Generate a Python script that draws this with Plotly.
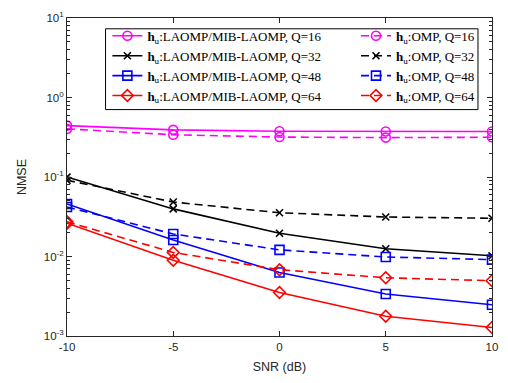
import plotly.graph_objects as go

snr = [-10, -5, 0, 5, 10]

laomp_q16 = [0.443, 0.392, 0.377, 0.374, 0.374]
omp_q16 = [0.403, 0.340, 0.318, 0.313, 0.316]
laomp_q32 = [0.100, 0.0397, 0.0196, 0.0125, 0.0102]
omp_q32 = [0.091, 0.0484, 0.0355, 0.0314, 0.0303]
laomp_q48 = [0.0458, 0.0161, 0.00628, 0.00337, 0.00247]
omp_q48 = [0.0420, 0.0192, 0.01213, 0.00986, 0.00914]
laomp_q64 = [0.0262, 0.00897, 0.00353, 0.00177, 0.00128]
omp_q64 = [0.0273, 0.01125, 0.00682, 0.00540, 0.00496]

x_ticks = [-10, -5, 0, 5, 10]
y_ticks = [1e-3, 1e-2, 1e-1, 1e0, 1e1]
y_tick_labels = ["10<sup>-3</sup>", "10<sup>-2</sup>", "10<sup>-1</sup>", "10<sup>0</sup>", "10<sup>1</sup>"]

series = [
    ("LAOMP/MIB-LAOMP", 16, laomp_q16, "#FF00FF", "circle-open", "solid", "legend"),
    ("LAOMP/MIB-LAOMP", 32, laomp_q32, "#000000", "x-thin-open", "solid", "legend"),
    ("LAOMP/MIB-LAOMP", 48, laomp_q48, "#0000FF", "square-open", "solid", "legend"),
    ("LAOMP/MIB-LAOMP", 64, laomp_q64, "#FF0000", "diamond-open", "solid", "legend"),
    ("OMP", 16, omp_q16, "#FF00FF", "circle-open", "8px,5px", "legend2"),
    ("OMP", 32, omp_q32, "#000000", "x-thin-open", "8px,5px", "legend2"),
    ("OMP", 48, omp_q48, "#0000FF", "square-open", "8px,5px", "legend2"),
    ("OMP", 64, omp_q64, "#FF0000", "diamond-open", "8px,5px", "legend2"),
]

fig = go.Figure()
for method, q, vals, color, sym, dash, leg in series:
    size = 9 if sym != "x-thin-open" else 7
    fig.add_trace(go.Scatter(
        x=snr, y=vals, mode="lines+markers",
        name=f"<b>h</b><sub>u</sub>:{method}, Q={q}",
        legend=leg,
        line=dict(color=color, width=1.6, dash=dash),
        marker=dict(symbol=sym, size=size, color=color,
                    line=dict(color=color, width=1.6)),
    ))

axis_color = "#262626"
legend_font = dict(family="Liberation Serif, Times New Roman, serif", size=13, color="#000000")
legend_top = 0.991

fig.add_shape(type="rect", xref="paper", yref="paper",
              x0=0.0907, x1=0.967, y0=0.712, y1=0.966,
              line=dict(color="#000000", width=1), fillcolor="white", layer="above")

fig.update_layout(
    width=508, height=383,
    margin=dict(l=67, r=11, t=10, b=47),
    paper_bgcolor="white", plot_bgcolor="white",
    font=dict(family="Liberation Sans, Arial, sans-serif", size=11, color=axis_color),
    showlegend=True,
    legend=dict(
        orientation="v", x=0.095, y=legend_top, xanchor="left", yanchor="top",
        bgcolor="rgba(0,0,0,0)", borderwidth=0, font=legend_font, tracegroupgap=0,
    ),
    legend2=dict(
        orientation="v", x=0.68, y=legend_top, xanchor="left", yanchor="top",
        bgcolor="rgba(0,0,0,0)", borderwidth=0, font=legend_font, tracegroupgap=0,
    ),
    xaxis=dict(
        range=[-10, 10], tickvals=x_ticks, ticktext=[str(v) for v in x_ticks],
        ticks="inside", ticklen=5, tickcolor=axis_color,
        showline=True, linecolor=axis_color, linewidth=1, mirror="allticks",
        showgrid=False, zeroline=False, ticklabeloverflow="allow",
        title=dict(text="SNR (dB)", font=dict(size=12.5), standoff=10),
        tickfont=dict(size=11.5),
    ),
    yaxis=dict(
        type="log", range=[-3, 1], tickvals=y_ticks, ticktext=y_tick_labels,
        ticks="inside", ticklen=5, tickcolor=axis_color,
        showline=True, linecolor=axis_color, linewidth=1, mirror="allticks",
        showgrid=False, zeroline=False, ticklabeloverflow="allow",
        minor=dict(ticks="inside", ticklen=3, tickcolor=axis_color, dtick="D1", showgrid=False),
        title=dict(text="NMSE", font=dict(size=12.5), standoff=14),
        tickfont=dict(size=11.5),
    ),
)

# remove the default 8px page margin so the 508x383 figure fills the window exactly
fig.write_html("out.html", config={"displayModeBar": False},
               post_script="document.body.style.margin='0';")
